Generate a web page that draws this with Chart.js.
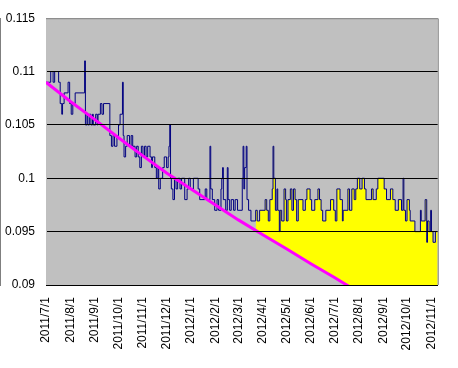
<!DOCTYPE html>
<html>
<head>
<meta charset="utf-8">
<script src="https://cdn.jsdelivr.net/npm/chart.js@4.4.1/dist/chart.umd.min.js"></script>
<style>
  body { margin: 0; background: #fff; }
</style>
</head>
<body>
<canvas id="graf" width="458" height="368"></canvas>
<script>
// x axis: days since 2011/7/1, labelled at each month start
const monthLabels = ["2011/7/1", "2011/8/1", "2011/9/1", "2011/10/1", "2011/11/1", "2011/12/1",
  "2012/1/1", "2012/2/1", "2012/3/1", "2012/4/1", "2012/5/1", "2012/6/1",
  "2012/7/1", "2012/8/1", "2012/9/1", "2012/10/1", "2012/11/1"];
const lastDay = 497;

// daily rate, given as change points (day, value) - holds until next change
const rateDay = [0, 6, 9, 11, 16, 18, 20, 21, 23, 28, 30, 32, 34, 37, 49, 50, 52, 53, 55, 57,
  59, 60, 63, 65, 66, 69, 71, 73, 81, 83, 85, 87, 90, 92, 94, 97, 98, 99, 101, 103,
  106, 108, 110, 113, 115, 117, 119, 121, 123, 125, 127, 129, 132, 134, 135, 138, 140, 142, 143, 145,
  148, 150, 153, 155, 156, 157, 158, 159, 161, 163, 165, 167, 170, 172, 176, 179, 181, 183, 187, 193,
  195, 202, 204, 208, 209, 211, 214, 217, 219, 222, 223, 224, 225, 228, 230, 231, 233, 235, 238, 240,
  243, 249, 250, 251, 252, 254, 255, 257, 260, 266, 268, 271, 278, 280, 282, 284, 287, 288, 289, 291,
  293, 294, 296, 297, 299, 302, 304, 305, 307, 310, 312, 314, 316, 318, 320, 326, 329, 331, 335, 337,
  341, 345, 347, 349, 351, 355, 361, 365, 367, 369, 373, 376, 377, 383, 385, 388, 391, 393, 395, 398,
  401, 404, 406, 413, 415, 419, 421, 429, 432, 437, 440, 443, 447, 451, 453, 454, 456, 458, 461, 462,
  468, 475, 476, 481, 483, 484, 486, 488, 489, 491, 494, 497];
const rateValue = [0.109, 0.110, 0.109, 0.110, 0.109, 0.107, 0.106, 0.107, 0.108, 0.109, 0.107, 0.106, 0.107, 0.108, 0.111, 0.105, 0.106, 0.105, 0.106, 0.105,
  0.106, 0.105, 0.106, 0.105, 0.106, 0.107, 0.106, 0.107, 0.104, 0.103, 0.104, 0.103, 0.104, 0.105, 0.106, 0.109, 0.104, 0.102, 0.103, 0.104,
  0.103, 0.104, 0.103, 0.102, 0.103, 0.102, 0.101, 0.103, 0.102, 0.103, 0.102, 0.103, 0.102, 0.101, 0.102, 0.101, 0.100, 0.101, 0.099, 0.100,
  0.101, 0.102, 0.101, 0.102, 0.103, 0.105, 0.100, 0.099, 0.098, 0.100, 0.099, 0.100, 0.099, 0.100, 0.098, 0.099, 0.100, 0.099, 0.100, 0.099,
  0.098, 0.099, 0.098, 0.103, 0.099, 0.098, 0.097, 0.098, 0.097, 0.099, 0.100, 0.101, 0.098, 0.097, 0.101, 0.098, 0.097, 0.098, 0.097, 0.098,
  0.097, 0.100, 0.103, 0.099, 0.101, 0.103, 0.098, 0.097, 0.096, 0.097, 0.096, 0.097, 0.098, 0.097, 0.096, 0.098, 0.099, 0.103, 0.100, 0.097,
  0.099, 0.097, 0.095, 0.097, 0.096, 0.099, 0.098, 0.096, 0.098, 0.099, 0.097, 0.099, 0.098, 0.096, 0.098, 0.097, 0.098, 0.099, 0.098, 0.097,
  0.098, 0.099, 0.098, 0.097, 0.096, 0.097, 0.098, 0.097, 0.096, 0.099, 0.098, 0.096, 0.097, 0.099, 0.097, 0.099, 0.098, 0.099, 0.100, 0.099,
  0.100, 0.099, 0.098, 0.099, 0.098, 0.099, 0.100, 0.099, 0.098, 0.099, 0.098, 0.097, 0.098, 0.097, 0.100, 0.097, 0.096, 0.098, 0.097, 0.096,
  0.095, 0.097, 0.096, 0.098, 0.094, 0.096, 0.095, 0.097, 0.095, 0.094, 0.095, 0.095];

// trend line (magenta), read at month starts
const trendDay = [0, 31, 62, 92, 123, 153, 184, 215, 244, 275, 305, 336, 366, 397, 428, 458, 489, 500];
const trendValue = [0.1090, 0.1072, 0.1055, 0.1038, 0.1021, 0.1005, 0.0990, 0.0975, 0.0961, 0.0947, 0.0934, 0.0920, 0.0907, 0.0893, 0.0880, 0.0867, 0.0854, 0.0850];

// yellow area starts here
const highlightFromDay = 266;

const yMin = 0.09, yMax = 0.115, yStep = 0.005;

const start = new Date(2011, 6, 1);
const monthDays = monthLabels.map(l => {
  const p = l.split("/").map(Number);
  return Math.round((new Date(p[0], p[1] - 1, p[2]) - start) / 86400000);
});

const ratePoints = rateDay.map((d, i) => ({ x: d, y: rateValue[i] }));
const highlightPoints = ratePoints.filter(p => p.x >= highlightFromDay);
const trendPoints = trendDay.map((d, i) => ({ x: d, y: trendValue[i] }));

const plotFrame = {
  id: "plotFrame",
  beforeDraw(chart) {
    const { ctx, chartArea: a } = chart;
    ctx.save();
    ctx.fillStyle = "#c0c0c0";
    ctx.fillRect(a.left, a.top, a.right - a.left, a.bottom - a.top);
    ctx.restore();
  },
  afterDraw(chart) {
    const { ctx, chartArea: a } = chart;
    ctx.save();
    ctx.strokeStyle = "#808080";
    ctx.lineWidth = 1;
    ctx.beginPath();
    ctx.moveTo(a.left, a.top + 0.5);
    ctx.lineTo(a.right + 0.5, a.top + 0.5);
    ctx.lineTo(a.right + 0.5, a.bottom);
    ctx.stroke();
    ctx.restore();
  }
};

Chart.defaults.font.family = "'Liberation Sans', Arial, sans-serif";
Chart.defaults.font.size = 12;
Chart.defaults.color = "#000";

new Chart(document.getElementById("graf"), {
  type: "line",
  data: {
    datasets: [
      {
        label: "trend",
        data: trendPoints,
        borderColor: "#ff00ff",
        borderWidth: 3,
        pointRadius: 0,
        fill: false
      },
      {
        label: "rate",
        data: ratePoints,
        borderColor: "#000080",
        borderWidth: 1,
        stepped: "before",
        pointRadius: 0,
        fill: false
      },
      {
        label: "highlight",
        data: highlightPoints,
        borderWidth: 0,
        borderColor: "rgba(0,0,0,0)",
        stepped: "before",
        pointRadius: 0,
        fill: { target: 0, above: "#ffff00", below: "rgba(0,0,0,0)" }
      }
    ]
  },
  options: {
    responsive: false,
    animation: false,
    layout: { padding: { top: 17, right: 9, left: 0, bottom: 0 } },
    plugins: { legend: { display: false }, tooltip: { enabled: false } },
    scales: {
      x: {
        type: "linear",
        min: 0,
        max: lastDay,
        grid: { display: false, drawTicks: false },
        border: { display: true, color: "#000", width: 1 },
        afterBuildTicks: axis => { axis.ticks = monthDays.map(v => ({ value: v })); },
        afterFit: axis => { axis.height = 83; },
        ticks: {
          autoSkip: false,
          minRotation: 90,
          maxRotation: 90,
          padding: 12,
          callback: v => monthLabels[monthDays.indexOf(v)]
        }
      },
      y: {
        min: yMin,
        max: yMax,
        grid: {
          z: 1,
          drawTicks: false,
          color: c => (c.tick && c.tick.value >= yMax - 1e-9 ? "rgba(0,0,0,0)" : "#000")
        },
        border: { display: true, color: "#000", width: 1 },
        afterFit: axis => { axis.width = 46; },
        ticks: {
          stepSize: yStep,
          padding: 11,
          callback: v => String(+v.toFixed(3))
        }
      }
    }
  },
  plugins: [plotFrame]
});
</script>
</body>
</html>
